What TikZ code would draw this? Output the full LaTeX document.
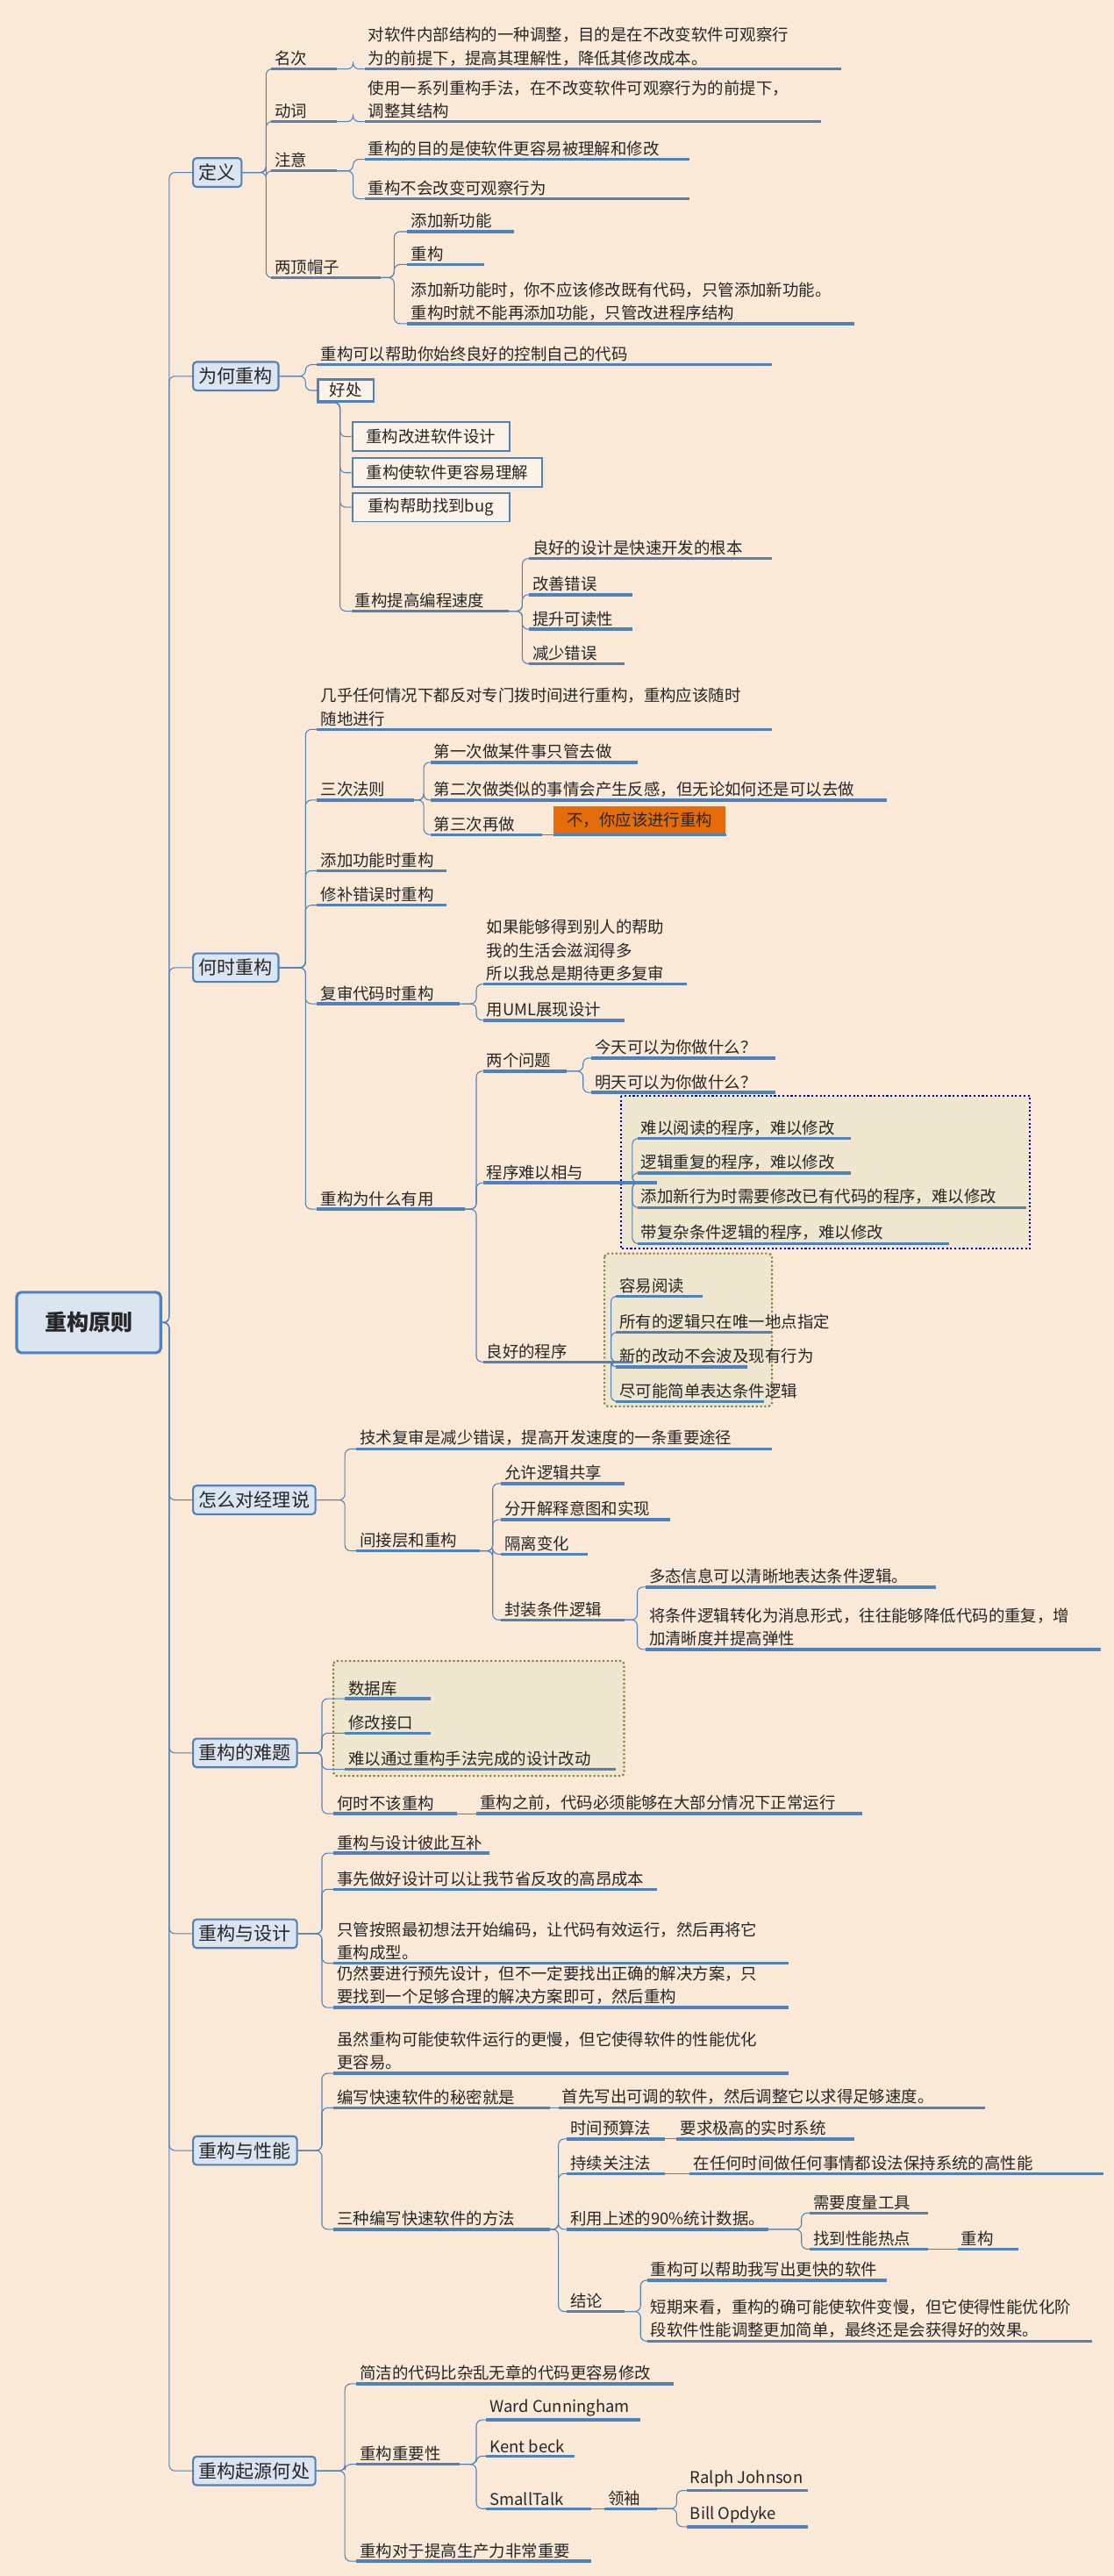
\documentclass[tikz,border=0pt]{standalone}
\usepackage{fontspec}
\setmainfont{Noto Sans CJK SC}
\definecolor{bg}{RGB}{251,233,215}
\definecolor{bl}{RGB}{79,129,189}
\definecolor{bfill}{RGB}{219,229,241}
\definecolor{orn}{RGB}{228,108,10}
\definecolor{zone}{RGB}{238,230,206}
\definecolor{olive}{RGB}{128,128,64}
\tikzset{
 tx/.style={inner xsep=3pt,inner ysep=2.5pt,align=left,font=\fontsize{14}{20}\selectfont,text=black!85},
 ul/.style={bl,line width=2.6pt},
 cn/.style={bl,line width=0.8pt,rounded corners=5},
 lone/.style={draw=bl,fill=bfill,line width=1.6pt,rounded corners=3,font=\fontsize{16}{20}\selectfont,inner sep=5pt,text=black!85},
 bx/.style={draw=bl,line width=1.4pt,fill=bg!60!white,inner xsep=3pt,inner ysep=3pt,align=left,font=\fontsize{14}{18}\selectfont,text=black!85,anchor=south west}
}
\newcommand\T[5]{\coordinate (#1-l) at (#2,#4);\coordinate (#1-r) at (#3,#4);
 \node[tx,anchor=south west] (#1) at (#2,#4) {#5};\draw[ul] (#1-l) -- (#1-r);}
\newcommand\B[5]{\node[bx,minimum width={(#3-#2)*1.4173pt},minimum height=25pt] (#1) at (#2,#4) {#5};
 \coordinate (#1-l) at (#1.west);\coordinate (#1-r) at (#1.east);}
\newcommand\C[3]{\path (#3,0) coordinate (tmpv);\draw[cn] (#1) -- (#1 -| tmpv) |- (#2);}
\begin{document}
\begin{tikzpicture}[x=0.05cm,y=-0.05cm]
\fill[bg] (0,0) rectangle (678,1568);
\useasboundingbox (0,0) rectangle (678,1568);
% zones
\draw[blue!80!black,line width=1.6pt,dotted,fill=zone] (378,667) rectangle (627,760);
\draw[olive,line width=1.6pt,dotted,fill=zone,rounded corners=3] (368,763) rectangle (470,856);
\draw[olive,line width=1.6pt,dotted,fill=zone,rounded corners=3] (203,1011) rectangle (380,1081);
% root
\node[draw=bl,fill=bfill,line width=2.4pt,rounded corners=4,minimum width={88*1.4173pt},minimum height={37*1.4173pt},font=\fontsize{19}{22}\bfseries\selectfont,text=black!85] (root) at (54,805) {重构原则};
% level 1
\node[lone,anchor=west] (b1) at (117,105) {定义};
\node[lone,anchor=west] (b2) at (117,229) {为何重构};
\node[lone,anchor=west] (b3) at (117,589) {何时重构};
\node[lone,anchor=west] (b4) at (117,913) {怎么对经理说};
\node[lone,anchor=west] (b5) at (117,1067) {重构的难题};
\node[lone,anchor=west] (b6) at (117,1177) {重构与设计};
\node[lone,anchor=west] (b7) at (117,1309) {重构与性能};
\node[lone,anchor=west] (b8) at (117,1504) {重构起源何处};
\foreach \b in {b1,b2,b3,b4,b5,b6,b7,b8}{\C{root.east}{\b.west}{103}}
% 定义
\T{a1}{165}{205}{42}{名次}
\T{a2}{165}{205}{74}{动词}
\T{a3}{165}{205}{104}{注意}
\T{a4}{165}{232}{169}{两顶帽子}
\foreach \c in {a1,a2,a3,a4}{\C{b1.east}{\c-l}{162}}
\T{a11}{222}{512}{42}{对软件内部结构的一种调整，目的是在不改变软件可观察行\\为的前提下，提高其理解性，降低其修改成本。}
\C{a1-r}{a11-l}{215}
\T{a21}{222}{500}{74}{使用一系列重构手法，在不改变软件可观察行为的前提下，\\调整其结构}
\C{a2-r}{a21-l}{215}
\T{a31}{222}{420}{97}{重构的目的是使软件更容易被理解和修改}
\T{a32}{222}{420}{121}{重构不会改变可观察行为}
\C{a3-r}{a31-l}{215}\C{a3-r}{a32-l}{215}
\T{a41}{248}{313}{141}{添加新功能}
\T{a42}{248}{295}{161}{重构}
\T{a43}{248}{520}{197}{添加新功能时，你不应该修改既有代码，只管添加新功能。\\重构时就不能再添加功能，只管改进程序结构}
\foreach \c in {a41,a42,a43}{\C{a4-r}{\c-l}{240}}
% 为何重构
\T{c1}{193}{470}{222}{重构可以帮助你始终良好的控制自己的代码}
\C{b2.east}{c1-l}{186}
\node[bx,line width=2pt,minimum width={34*1.4173pt}] (hc) at (193,245) {好处};
\C{b2.east}{hc.west}{186}
\B{c21}{214}{310}{275}{重构改进软件设计}
\B{c22}{214}{330}{297}{重构使软件更容易理解}
\B{c23}{214}{310}{318}{重构帮助找到bug}
\T{c24}{214}{310}{372}{重构提高编程速度}
\foreach \c in {c21,c22,c23,c24}{\C{hc.south west}{\c-l}{207}}
\T{c241}{322}{470}{340}{良好的设计是快速开发的根本}
\T{c242}{322}{385}{362}{改善错误}
\T{c243}{322}{385}{383}{提升可读性}
\T{c244}{322}{380}{404}{减少错误}
\foreach \c in {c241,c242,c243,c244}{\C{c24-r}{\c-l}{318}}
% 何时重构
\T{d1}{193}{470}{444}{几乎任何情况下都反对专门拨时间进行重构，重构应该随时\\随地进行}
\T{d2}{193}{252}{487}{三次法则}
\T{d3}{193}{272}{530}{添加功能时重构}
\T{d4}{193}{272}{551}{修补错误时重构}
\T{d5}{193}{280}{611}{复审代码时重构}
\T{d6}{193}{283}{736}{重构为什么有用}
\foreach \c in {d1,d2,d3,d4,d5,d6}{\C{b3.east}{\c-l}{186}}
\T{d21}{262}{388}{464}{第一次做某件事只管去做}
\T{d22}{262}{540}{487}{第二次做类似的事情会产生反感，但无论如何还是可以去做}
\T{d23}{262}{330}{508}{第三次再做}
\foreach \c in {d21,d22,d23}{\C{d2-r}{\c-l}{258}}
\node[fill=orn,inner xsep=3pt,inner ysep=2.5pt,anchor=south west,minimum width={105*1.4173pt},font=\fontsize{14}{18}\selectfont,text=black!85,minimum height=24pt] (d231) at (337,508) {不，你应该进行重构};
\draw[ul] (337,508) -- (442,508);
\draw[cn] (d23-r) -- (337,508);
\T{d51}{294}{418}{599}{如果能够得到别人的帮助\\我的生活会滋润得多\\所以我总是期待更多复审}
\T{d52}{294}{380}{621}{用UML展现设计}
\C{d5-r}{d51-l}{290}\C{d5-r}{d52-l}{290}
\T{d61}{294}{345}{652}{两个问题}
\T{d62}{294}{400}{720}{程序难以相与}
\T{d63}{294}{385}{829}{良好的程序}
\foreach \c in {d61,d62,d63}{\C{d6-r}{\c-l}{290}}
\T{d611}{360}{472}{644}{今天可以为你做什么？}
\T{d612}{360}{472}{665}{明天可以为你做什么？}
\C{d61-r}{d611-l}{355}\C{d61-r}{d612-l}{355}
\T{d621}{388}{518}{693}{难以阅读的程序，难以修改}
\T{d622}{388}{518}{714}{逻辑重复的程序，难以修改}
\T{d623}{388}{625}{735}{添加新行为时需要修改已有代码的程序，难以修改}
\T{d624}{388}{578}{757}{带复杂条件逻辑的程序，难以修改}
\foreach \c in {d621,d622,d623,d624}{\C{d62-r}{\c-l}{385}}
\T{d631}{375}{428}{789}{容易阅读}
\T{d632}{375}{470}{811}{所有的逻辑只在唯一地点指定}
\T{d633}{375}{455}{832}{新的改动不会波及现有行为}
\T{d634}{375}{465}{853}{尽可能简单表达条件逻辑}
\foreach \c in {d631,d632,d633,d634}{\C{d63-r}{\c-l}{372}}
% 怎么对经理说
\T{e1}{217}{470}{882}{技术复审是减少错误，提高开发速度的一条重要途径}
\T{e2}{217}{292}{944}{间接层和重构}
\C{b4.east}{e1-l}{210}\C{b4.east}{e2-l}{210}
\T{e21}{305}{380}{903}{允许逻辑共享}
\T{e22}{305}{408}{925}{分开解释意图和实现}
\T{e23}{305}{358}{946}{隔离变化}
\T{e24}{305}{380}{986}{封装条件逻辑}
\foreach \c in {e21,e22,e23,e24}{\C{e2-r}{\c-l}{300}}
\T{e241}{393}{570}{966}{多态信息可以清晰地表达条件逻辑。}
\T{e242}{393}{670}{1004}{将条件逻辑转化为消息形式，往往能够降低代码的重复，增\\加清晰度并提高弹性}
\C{e24-r}{e241-l}{388}\C{e24-r}{e242-l}{388}
% 重构的难题
\T{f1}{210}{262}{1034}{数据库}
\T{f2}{210}{262}{1055}{修改接口}
\T{f3}{210}{375}{1077}{难以通过重构手法完成的设计改动}
\foreach \c in {f1,f2,f3}{\C{b5.east}{\c-l}{196}}
\T{f4}{203}{278}{1104}{何时不该重构}
\C{b5.east}{f4-l}{196}
\T{f41}{290}{525}{1104}{重构之前，代码必须能够在大部分情况下正常运行}
\draw[cn] (f4-r) -- (f41-l);
% 重构与设计
\T{g1}{203}{298}{1128}{重构与设计彼此互补}
\T{g2}{203}{400}{1150}{事先做好设计可以让我节省反攻的高昂成本}
\T{g3}{203}{480}{1195}{只管按照最初想法开始编码，让代码有效运行，然后再将它\\重构成型。}
\T{g4}{203}{480}{1222}{仍然要进行预先设计，但不一定要找出正确的解决方案，只\\要找到一个足够合理的解决方案即可，然后重构}
\foreach \c in {g1,g2,g3,g4}{\C{b6.east}{\c-l}{196}}
% 重构与性能
\T{h1}{203}{480}{1262}{虽然重构可能使软件运行的更慢，但它使得软件的性能优化\\更容易。}
\T{h2}{203}{335}{1283}{编写快速软件的秘密就是}
\T{h3}{203}{335}{1357}{三种编写快速软件的方法}
\foreach \c in {h1,h2,h3}{\C{b7.east}{\c-l}{196}}
\T{h21}{340}{600}{1283}{首先写出可调的软件，然后调整它以求得足够速度。}
\draw[cn] (h2-r) -- (h21-l);
\T{h31}{345}{405}{1302}{时间预算法}
\T{h32}{345}{405}{1323}{持续关注法}
\T{h33}{345}{468}{1357}{利用上述的90\%统计数据。}
\T{h34}{345}{380}{1407}{结论}
\foreach \c in {h31,h32,h33,h34}{\C{h3-r}{\c-l}{340}}
\T{h311}{412}{520}{1302}{要求极高的实时系统}
\draw[cn] (h31-r) -- (h311-l);
\T{h321}{420}{672}{1323}{在任何时间做任何事情都设法保持系统的高性能}
\draw[cn] (h32-r) -- (h321-l);
\T{h331}{493}{565}{1347}{需要度量工具}
\T{h332}{493}{565}{1369}{找到性能热点}
\C{h33-r}{h331-l}{488}\C{h33-r}{h332-l}{488}
\T{h3321}{583}{620}{1369}{重构}
\draw[cn] (h332-r) -- (h3321-l);
\T{h341}{394}{540}{1388}{重构可以帮助我写出更快的软件}
\T{h342}{394}{665}{1425}{短期来看，重构的确可能使软件变慢，但它使得性能优化阶\\段软件性能调整更加简单，最终还是会获得好的效果。}
\C{h34-r}{h341-l}{390}\C{h34-r}{h342-l}{390}
% 重构起源何处
\T{k1}{217}{410}{1451}{简洁的代码比杂乱无章的代码更容易修改}
\T{k2}{217}{280}{1500}{重构重要性}
\T{k3}{217}{360}{1559}{重构对于提高生产力非常重要}
\foreach \c in {k1,k2,k3}{\C{b8.east}{\c-l}{210}}
\T{k21}{296}{390}{1473}{Ward Cunningham}
\T{k22}{296}{350}{1495}{Kent beck}
\T{k23}{296}{360}{1527}{SmallTalk}
\foreach \c in {k21,k22,k23}{\C{k2-r}{\c-l}{290}}
\T{k231}{368}{400}{1527}{领袖}
\draw[cn] (k23-r) -- (k231-l);
\T{k2311}{418}{492}{1516}{Ralph Johnson}
\T{k2312}{418}{492}{1538}{Bill Opdyke}
\C{k231-r}{k2311-l}{412}\C{k231-r}{k2312-l}{412}
\end{tikzpicture}
\end{document}
